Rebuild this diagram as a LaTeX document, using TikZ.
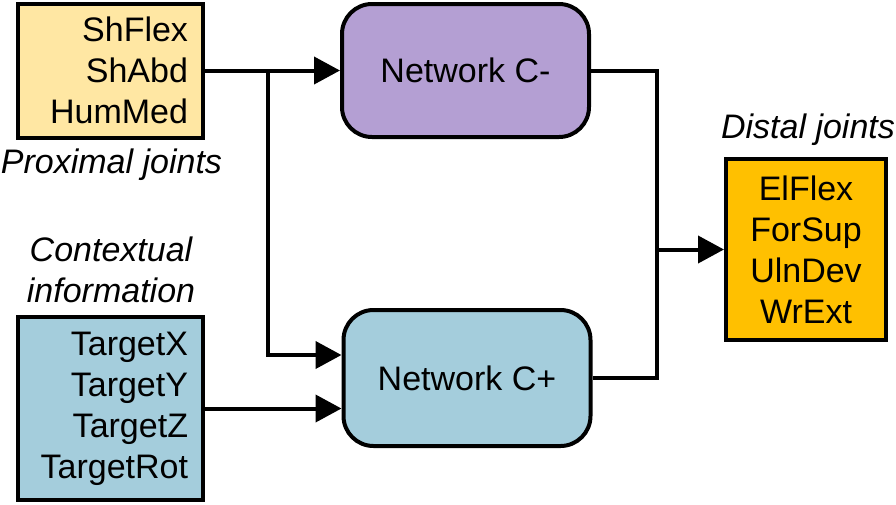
\documentclass[tikz,border=0pt]{standalone}
\usepackage{fontspec}
\setmainfont{Liberation Sans}
\usetikzlibrary{arrows.meta}
\definecolor{proxcol}{RGB}{255,231,163}
\definecolor{ctxcol}{RGB}{164,205,220}
\definecolor{netcol}{RGB}{180,159,211}
\definecolor{distcol}{RGB}{255,192,0}
\newcommand{\bigfont}{\fontsize{34}{41}\selectfont}
\begin{document}
\begin{tikzpicture}[x=1pt,y=-1pt,
	box/.style={draw,line width=4pt,font=\bigfont,inner sep=0pt},
	inbox/.style={box,align=right,text width=155pt,inner xsep=15pt},
	net/.style={box,rounded corners=30pt,minimum width=247pt},
	jointname/.style={font=\bigfont\itshape,align=center},
	wire/.style={line width=4pt},
	conn/.style={wire,-{Triangle[length=26pt,width=27pt]}}]
		\useasboundingbox (0,0) rectangle (896,504);
		\node[inbox,fill=proxcol,minimum height=134pt] (prox) at (110.5,70.5) {ShFlex\\ShAbd\\HumMed};
		\node[inbox,fill=ctxcol,minimum height=183pt] (ctx) at (110.5,408.5) {TargetX\\TargetY\\TargetZ\\TargetRot};
		\node[net,fill=netcol,minimum height=133pt] (cminus) at (465.5,70.5) {Network C-};
		\node[net,fill=ctxcol,minimum height=136pt] (cplus) at (467,378) {Network C+};
		\node[box,fill=distcol,align=center,minimum width=160pt,minimum height=181pt] (distal) at (806,249.5) {ElFlex\\ForSup\\UlnDev\\WrExt};
		\node[jointname] (proxname) at (111.5,165) {Proximal joints};
		\node[jointname] (ctxname) at (111,270) {Contextual\\information};
		\node[jointname] (distname) at (808,130) {Distal joints};
		\coordinate (split) at (268,70.5);
		\coordinate (merge) at (657,249.5);
		\draw[conn] (prox.east) -- (cminus.west);
		\draw[conn] (split) |- ([yshift=23pt]cplus.west);
		\draw[conn] (ctx.east) -- (ctx.east -| cplus.west);
		\draw[wire] (cminus.east) -| (merge) |- (cplus.east);
		\draw[conn] (merge) -- (distal.west);
		\end{tikzpicture}
\end{document}
